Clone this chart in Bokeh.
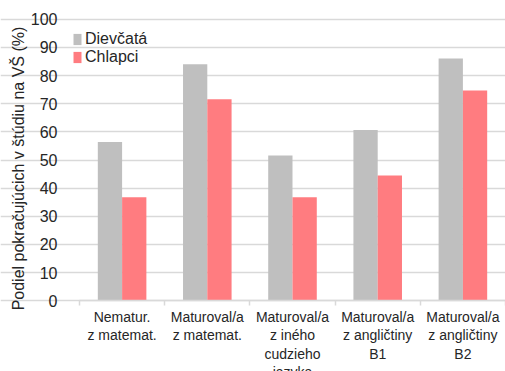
from bokeh.plotting import figure
from bokeh.models import (Range1d, FixedTicker, Legend, LegendItem, Label,
                          ColumnDataSource)
from bokeh.embed import file_html
from bokeh.resources import INLINE

# Share of students continuing to university (%), by group
categories = ["Nematur.\nz matemat.", "Maturoval/a\nz matemat.",
              "Maturoval/a\nz iného\ncudzieho\njazyka",
              "Maturoval/a\nz angličtiny\nB1", "Maturoval/a\nz angličtiny\nB2"]
girls = [56.4, 84.0, 51.6, 60.7, 86.1]
boys = [36.8, 71.6, 36.8, 44.5, 74.7]
series_names = ["Dievčatá", "Chlapci"]
y_ticks = [0, 10, 20, 30, 40, 50, 60, 70, 80, 90, 100]

FONT = "Liberation Sans"
TEXT = "#262626"
GRID = "#D9D9D9"
GREY = "#BFBFBF"
PINK = "#FF7C80"

W, H = 505, 371
n = len(categories)
centers = [i + 0.5 for i in range(n)]
bw = 0.285

# The frame fills the whole canvas; axes are pinned at x=0 / y=0 so that
# the tick labels and the long category labels sit inside it.
px_per_cat = (W - 79) / n
px_per_pct = 2.814
zero_y = 300.2
x_range = Range1d(-79 / px_per_cat, n)
y_range = Range1d(-(H - zero_y) / px_per_pct, zero_y / px_per_pct)

p = figure(width=W, height=H, output_backend="svg", toolbar_location=None,
           x_range=x_range, y_range=y_range,
           min_border_left=0, min_border_right=0, min_border_top=0,
           min_border_bottom=0)
p.outline_line_color = None
p.background_fill_color = "white"
p.border_fill_color = "white"

src_g = ColumnDataSource(dict(x=[c - bw / 2 for c in centers], top=girls))
src_b = ColumnDataSource(dict(x=[c + bw / 2 for c in centers], top=boys))
rg = p.vbar(x="x", top="top", width=bw, source=src_g, fill_color=GREY,
            line_color=None)
rb = p.vbar(x="x", top="top", width=bw, source=src_b, fill_color=PINK,
            line_color=None)

# y axis: plain labels, no line or ticks
yax = p.yaxis[0]
yax.fixed_location = 0
yax.bounds = (0, 100)
yax.ticker = FixedTicker(ticks=y_ticks)
yax.axis_line_color = None
yax.major_tick_line_color = None
yax.minor_tick_line_color = None
yax.major_label_text_font = FONT
yax.major_label_text_font_size = "16px"
yax.major_label_text_color = TEXT
yax.major_label_standoff = 16

p.ygrid.grid_line_color = GRID
p.ygrid.grid_line_width = 1.5
p.ygrid.ticker = FixedTicker(ticks=y_ticks)
p.ygrid.bounds = (0, n)
p.xgrid.grid_line_color = None

# x axis: category labels centred, small ticks between groups
xax = p.xaxis[0]
xax.fixed_location = 0
xax.bounds = (0, n)
xax.ticker = FixedTicker(ticks=centers, minor_ticks=list(range(n + 1)))
xax.major_label_overrides = {c: lab for c, lab in zip(centers, categories)}
xax.axis_line_color = GRID
xax.axis_line_width = 1.5
xax.major_tick_line_color = None
xax.minor_tick_line_color = GRID
xax.minor_tick_line_width = 1.5
xax.minor_tick_in = 0
xax.minor_tick_out = 5
xax.major_label_text_font = FONT
xax.major_label_text_font_size = "14px"
xax.major_label_text_color = TEXT
xax.major_label_text_line_height = 1.15
xax.major_label_standoff = 2

# y axis title
p.add_layout(Label(x=18, y=H - 168, x_units="screen", y_units="screen",
                   text="Podiel pokračujúcich v štúdiu na VŠ (%)",
                   angle=1.5707963, text_align="center",
                   text_baseline="middle", text_font=FONT,
                   text_font_size="16px", text_color=TEXT))

legend = Legend(items=[LegendItem(label=series_names[0], renderers=[rg]),
                       LegendItem(label=series_names[1], renderers=[rb])],
                location=(72, H - 66), orientation="vertical",
                glyph_width=10, glyph_height=14, label_standoff=3,
                label_height=17, spacing=0, padding=0, margin=0,
                border_line_color=None, background_fill_alpha=0,
                label_text_font=FONT, label_text_font_size="16px",
                label_text_color=TEXT)
p.add_layout(legend)

open("out.html", "w").write(file_html(p, INLINE))
